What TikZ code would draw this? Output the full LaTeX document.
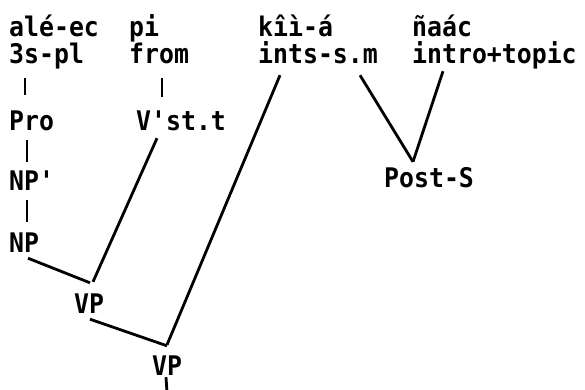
\documentclass[tikz,border=0pt]{standalone}
\usepackage{fontspec}
\newfontfamily\treefont{DejaVu Sans Mono}[FakeStretch=0.92]
\usetikzlibrary{calc}

\tikzset{
  word/.style={font=\treefont\bfseries\fontsize{27}{27}\selectfont,
    inner sep=0pt, anchor=base west, text height=20pt, text depth=6pt},
  branch/.style={line width=2.8pt}
}

\begin{document}
\begin{tikzpicture}[x=1pt, y=1pt]
                \useasboundingbox (0,0) rectangle (585,-389);
                % glosses
                \node[word] (ale)   at (9,-36)   {alé-ec};
                \node[word] (sg)    at (9,-63)   {3s-pl};
                \node[word] (pi)    at (129,-36) {pi};
                \node[word] (from)  at (129,-63) {from};
                \node[word] (kii)   at (258,-36) {kîì-á};
                \node[word] (ints)  at (258,-63) {ints-s.m};
                \node[word] (naac)  at (412,-36) {ñaác};
                \node[word] (intro) at (412,-63) {intro+topic};
                % categories
                \node[word] (pro)   at (9,-130)   {Pro};
                \node[word] (npbar) at (9,-190)   {NP'};
                \node[word] (np)    at (9,-252)   {NP};
                \node[word] (vst)   at (136,-130) {V'st.t};
                \node[word] (vpa)   at (74,-313)  {VP};
                \node[word] (vpb)   at (152,-375) {VP};
                \node[word] (post)  at (384,-187) {Post-S};
                \coordinate (root) at (167,-392);
                % vertical bars
                \draw[branch] ([xshift=16pt,yshift=-9pt]sg.south west) -- ([xshift=16pt,yshift=15pt]pro.north west);
                \draw[branch] ([xshift=33pt,yshift=-9pt]from.south west) -- ([xshift=26pt,yshift=13pt]vst.north west);
                \draw[branch] ([xshift=18pt,yshift=-4pt]pro.south west) -- ([xshift=18pt,yshift=8pt]npbar.north west);
                \draw[branch] ([xshift=18pt,yshift=-4pt]npbar.south west) -- ([xshift=18pt,yshift=10pt]np.north west);
                \draw[branch] ([xshift=14pt,yshift=4pt]vpb.south west) -- (root);
                % slanted branches
                \draw[branch] ([xshift=19pt]np.south west) -- ([xshift=16pt,yshift=10pt]vpa.north west);
                \draw[branch] ([xshift=21pt,yshift=-2pt]vst.south west) -- ([xshift=19pt,yshift=11pt]vpa.north west);
                \draw[branch] ([xshift=16pt]vpa.south west) -- ([xshift=15pt,yshift=9pt]vpb.north west);
                \draw[branch] ([xshift=22pt,yshift=-6pt]ints.south west) -- ([xshift=15pt,yshift=10pt]vpb.north west);
                \draw[branch] ([xshift=102pt,yshift=-6pt]ints.south west) -- ([xshift=29pt,yshift=5pt]post.north west);
                \draw[branch] ([xshift=31pt,yshift=-2pt]intro.south west) -- ([xshift=29pt,yshift=5pt]post.north west);
            \end{tikzpicture}
\end{document}
